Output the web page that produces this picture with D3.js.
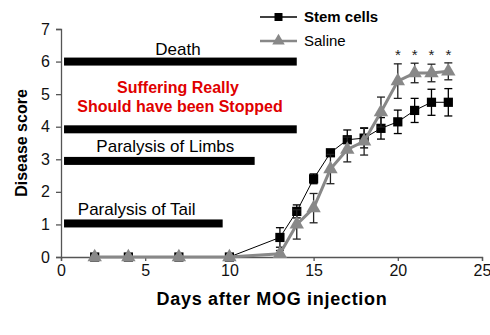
<!DOCTYPE html>
<html>
<head>
<meta charset="utf-8">
<script src="https://cdn.jsdelivr.net/npm/d3@7"></script>
<style>
  body { margin: 0; background: #fff; }
  text { font-family: "Liberation Sans", Arial, sans-serif; }
</style>
</head>
<body>
<div id="chart"></div>
<script>
// disease course, mean score per day with error
const days = [2, 4, 7, 10, 13, 14, 15, 16, 17, 18, 19, 20, 21, 22, 23]
const stemCells = [0, 0, 0, 0, 0.6, 1.4, 2.4, 3.2, 3.6, 3.65, 3.95, 4.15, 4.5, 4.75, 4.75]
const stemErr = [0, 0, 0, 0, 0.3, 0.2, 0.15, 0.1, 0.3, 0.3, 0.33, 0.36, 0.37, 0.4, 0.42]
const saline = [0, 0, 0, 0, 0.1, 1.0, 1.5, 2.7, 3.3, 3.55, 4.45, 5.4, 5.65, 5.65, 5.7]
const salineErr = [0, 0, 0, 0, 0.1, 0.45, 0.45, 0.45, 0.38, 0.42, 0.46, 0.53, 0.3, 0.27, 0.26]
const sigDays = [20, 21, 22, 23]

// severity bands
const bandNames = ['Death', 'Suffering Really', 'Paralysis of Limbs', 'Paralysis of Tail']
const bandLevels = [6, 3.92, 2.95, 1.03]
const bandEnds = [14, 14, 11.5, 9.6]

const xTicks = [0, 5, 10, 15, 20, 25]
const yTicks = [0, 1, 2, 3, 4, 5, 6, 7]

const width = 490, height = 335
const svg = d3.select('#chart').append('svg')
  .attr('width', width)
  .attr('height', height)
  .style('background', '#fff')

const x = d3.scaleLinear().domain([0, 25]).range([61, 482])
const y = d3.scaleLinear().domain([0, 7]).range([257, 29])

// axes
const xAxis = svg.append('g')
  .attr('transform', `translate(0,${y(0)})`)
  .call(d3.axisBottom(x).tickValues(xTicks).tickFormat(d3.format('d')).tickSize(4).tickPadding(4))
const yAxis = svg.append('g')
  .attr('transform', `translate(${x(0)},0)`)
  .call(d3.axisLeft(y).tickValues(yTicks).tickFormat(d3.format('d')).tickSize(5).tickPadding(6))

for (const g of [xAxis, yAxis]) {
  g.select('.domain').attr('stroke', '#555').attr('stroke-width', 1.3)
  g.selectAll('.tick line').attr('stroke', '#555').attr('stroke-width', 1.3)
  g.selectAll('.tick text')
    .attr('fill', '#111')
    .style('font-size', '16px')
    .style('font-family', '"Liberation Sans", Arial, sans-serif')
}

// horizontal severity bars
svg.selectAll('rect.band')
  .data(bandLevels)
  .enter().append('rect')
    .attr('class', 'band')
    .attr('x', x(0.18))
    .attr('y', d => y(d) - 4)
    .attr('width', (d, i) => x(bandEnds[i]) - x(0.18))
    .attr('height', 8)
    .attr('fill', '#000')

const label = (txt, cx, cy, opts = {}) => svg.append('text')
  .attr('x', cx).attr('y', cy)
  .attr('text-anchor', opts.anchor || 'middle')
  .attr('fill', opts.fill || '#000')
  .style('font-size', (opts.size || 17) + 'px')
  .style('font-weight', opts.weight || 'normal')
  .text(txt)

label(bandNames[0], 178, 55)
label(bandNames[1], 178, 93, { fill: '#e00000', weight: 'bold', size: 16 })
label('Should have been Stopped', 180, 112, { fill: '#e00000', weight: 'bold', size: 16 })
label(bandNames[2], x(2.1), 152, { anchor: 'start' })
label(bandNames[3], x(1.0), 215, { anchor: 'start' })

// series
const series = [
  { name: 'Stem cells', vals: stemCells, err: stemErr, color: '#000', lw: 1, errColor: '#000', shape: d3.symbolSquare, size: 85, bold: true },
  { name: 'Saline', vals: saline, err: salineErr, color: '#888', lw: 3, errColor: '#222', shape: d3.symbolTriangle, size: 90, bold: false }
]

const line = d3.line().x(d => x(d[0])).y(d => y(d[1]))

series.forEach(s => {
  const pts = days.map((d, i) => [d, s.vals[i], s.err[i]])
  const g = svg.append('g')

  g.selectAll('g.err')
    .data(pts.filter(p => p[2] > 0))
    .enter().append('g')
      .attr('class', 'err')
      .attr('stroke', s.errColor)
      .attr('stroke-width', 1.3)
      .each(function (p) {
        const e = d3.select(this)
        const cx = x(p[0])
        e.append('line').attr('x1', cx).attr('x2', cx).attr('y1', y(p[1] - p[2])).attr('y2', y(p[1] + p[2]))
        e.append('line').attr('x1', cx - 4).attr('x2', cx + 4).attr('y1', y(p[1] - p[2])).attr('y2', y(p[1] - p[2]))
        e.append('line').attr('x1', cx - 4).attr('x2', cx + 4).attr('y1', y(p[1] + p[2])).attr('y2', y(p[1] + p[2]))
      })

  g.append('path')
    .datum(pts)
    .attr('d', line)
    .attr('fill', 'none')
    .attr('stroke', s.color)
    .attr('stroke-width', s.lw)

  g.selectAll('path.mark')
    .data(pts)
    .enter().append('path')
      .attr('class', 'mark')
      .attr('d', d3.symbol().type(s.shape).size(s.size))
      .attr('transform', p => `translate(${x(p[0])},${y(p[1])})`)
      .attr('fill', s.color)
})

// significance markers
svg.selectAll('text.sig')
  .data(sigDays)
  .enter().append('text')
    .attr('class', 'sig')
    .attr('x', d => x(d))
    .attr('y', y(6.05))
    .attr('text-anchor', 'middle')
    .attr('fill', '#222')
    .style('font-size', '15px')
    .text('*')

// legend
series.forEach((s, i) => {
  const ly = 17 + i * 24
  const lg = svg.append('g')
  lg.append('line')
    .attr('x1', 260).attr('x2', 297).attr('y1', ly).attr('y2', ly)
    .attr('stroke', s.color).attr('stroke-width', s.lw === 1 ? 1.5 : 2.5)
  lg.append('path')
    .attr('d', d3.symbol().type(s.shape).size(s.size * 0.75))
    .attr('transform', `translate(278.5,${ly})`)
    .attr('fill', s.color)
  lg.append('text')
    .attr('x', 304).attr('y', ly + 5)
    .style('font-size', '15px')
    .style('font-weight', s.bold ? 'bold' : 'normal')
    .text(s.name)
})

// axis titles
svg.append('text')
  .attr('transform', `translate(27,${(y(0) + y(7)) / 2}) rotate(-90)`)
  .attr('text-anchor', 'middle')
  .style('font-size', '16px')
  .style('font-weight', 'bold')
  .text('Disease score')

svg.append('text')
  .attr('x', 272).attr('y', 305)
  .attr('text-anchor', 'middle')
  .style('font-size', '18px')
  .style('font-weight', 'bold')
  .style('letter-spacing', '0.7px')
  .text('Days after MOG injection')
</script>
</body>
</html>
